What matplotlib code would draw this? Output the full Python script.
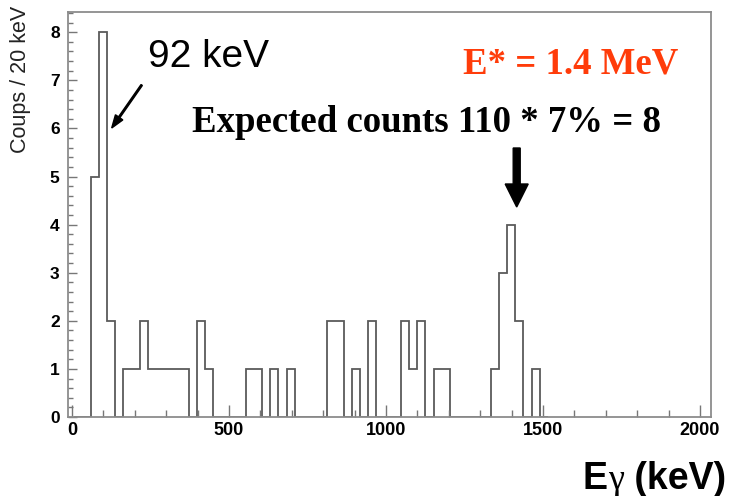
import numpy as np
import matplotlib
matplotlib.use("Agg")
import matplotlib.pyplot as plt
from matplotlib.patches import FancyArrow
from matplotlib.transforms import IdentityTransform
from matplotlib.ticker import MultipleLocator

# ---- data ----
bin_start = 7.6      # keV, lower edge of first bin
bin_width = 26.0     # keV
counts = [0, 0, 5, 8, 2, 0, 1, 1, 2, 1,
          1, 1, 1, 1, 0, 2, 1, 0, 0, 0,
          0, 1, 1, 0, 1, 0, 1, 0, 0, 0,
          0, 2, 2, 0, 1, 0, 2, 0, 0, 0,
          2, 1, 2, 0, 1, 1, 0, 0, 0, 0,
          0, 1, 3, 4, 2, 0, 1, 0]
x_ticks = [0, 500, 1000, 1500, 2000]
y_ticks = [0, 1, 2, 3, 4, 5, 6, 7, 8]
y_label = "Coups / 20 keV"
x_label_parts = ["E", "\u03b3", " (keV)"]
peak_label = "92 keV"
estar_label = "E* = 1.4 MeV"
expected_label = "Expected counts 110 * 7% = 8"

W, H = 729, 496
fig = plt.figure(figsize=(W / 100, H / 100), dpi=100)

# axes frame in pixels: left 68, right 711, top 12, bottom 417
L, R, T, B = 68, 711, 12, 417
ax = fig.add_axes([L / W, 1 - B / H, (R - L) / W, (B - T) / H])

edges = bin_start + bin_width * np.arange(len(counts) + 1)
ax.stairs(counts, edges, color="#5a5a5a", lw=1.3, baseline=0)

ax.set_xlim(-12.7, 2035)
ax.set_ylim(0, 8.42)

frame_col = "#8c8c8c"
for s in ax.spines.values():
    s.set_color(frame_col)
    s.set_linewidth(1.3)

ax.set_xticks(x_ticks)
ax.set_yticks(y_ticks)
ax.xaxis.set_minor_locator(MultipleLocator(100))
ax.yaxis.set_minor_locator(MultipleLocator(0.2))
ax.tick_params(axis="x", which="major", direction="in", length=8.6, width=1.0,
               color="#777777", pad=3.5, labelsize=13)
ax.tick_params(axis="x", which="minor", direction="in", length=5, width=1.0,
               color="#777777")
ax.tick_params(axis="y", which="major", direction="in", length=6.5, width=1.0,
               color="#777777", pad=6, labelsize=12.5)
ax.tick_params(axis="y", which="minor", direction="in", length=3.6, width=1.0,
               color="#777777")
for lab in ax.get_xticklabels() + ax.get_yticklabels():
    lab.set_fontfamily("Liberation Sans")
    lab.set_fontweight("bold")


def fx(px):
    return px / W


def fy(py):
    return 1 - py / H


# y title (top aligned, ROOT style)
fig.text(fx(21), fy(6), y_label, rotation=90, ha="center", va="top",
         fontsize=15.5, family="Liberation Sans", color="#222222")

# x title, built right-to-left from pieces (gamma in a serif face)
fig.canvas.draw()
renderer = fig.canvas.get_renderer()
x_right = 726
base_y = 489
styles = [dict(family="Liberation Sans", fontweight="bold", fontsize=27),
          dict(family="Liberation Serif", fontweight="normal", fontsize=26),
          dict(family="Liberation Sans", fontweight="bold", fontsize=27)]
for part, st in reversed(list(zip(x_label_parts, styles))):
    t = fig.text(fx(x_right), fy(base_y), part, ha="right", va="baseline",
                 color="black", **st)
    bb = t.get_window_extent(renderer=renderer)
    x_right -= bb.width

# annotations
fig.text(fx(148), fy(67), peak_label, ha="left", va="baseline",
         fontsize=28, family="Liberation Sans", color="black")
fig.text(fx(463), fy(74), estar_label, ha="left", va="baseline",
         fontsize=26.5, family="Liberation Serif", fontweight="bold",
         color="#ff3c0a")
fig.text(fx(192), fy(132), expected_label, ha="left", va="baseline",
         fontsize=26.5, family="Liberation Serif", fontweight="bold",
         color="black")

# small arrow to the 92 keV peak
x0, y0, x1, y1 = 141.7, 85, 111.7, 128
fig.patches.append(FancyArrow(x0, H - y0, x1 - x0, -(y1 - y0), width=1.6,
                              head_width=9, head_length=13,
                              length_includes_head=True, color="black",
                              transform=IdentityTransform()))
# big arrow
bx, by0, by1 = 516.7, 148, 207
fig.patches.append(FancyArrow(bx, H - by0, 0, -(by1 - by0), width=7,
                              head_width=23, head_length=23,
                              length_includes_head=True, color="black",
                              transform=IdentityTransform()))

fig.savefig("out.png", dpi=100)
